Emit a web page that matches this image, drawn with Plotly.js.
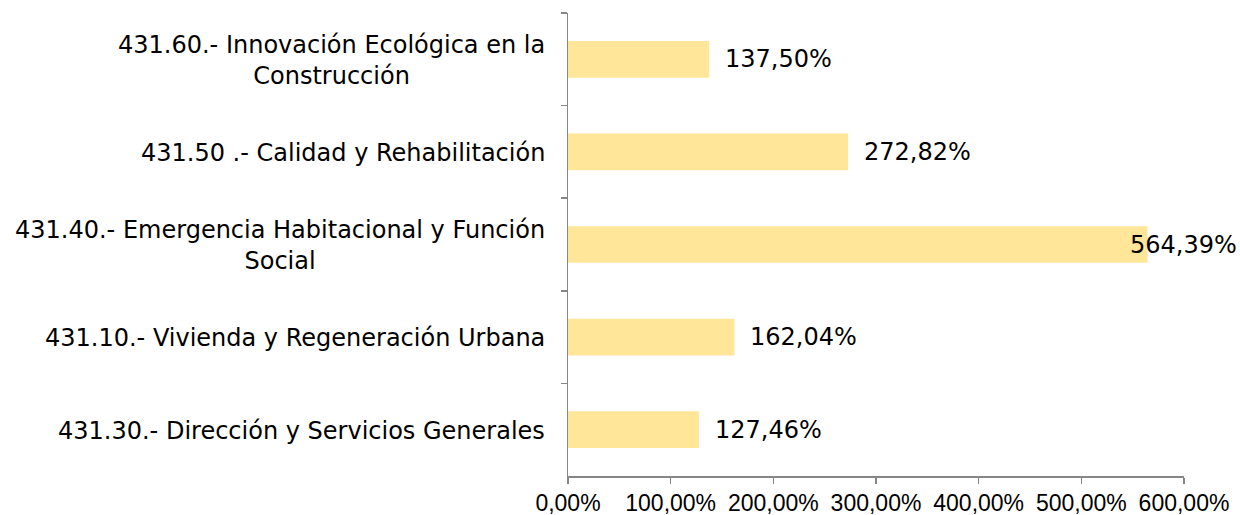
<!DOCTYPE html>
<html>
<head>
<meta charset="utf-8">
<script src="https://cdn.plot.ly/plotly-3.0.1.min.js"></script>
<style>html,body{margin:0;padding:0;background:#fff;}#chart{width:1240px;height:515px;}</style>
</head>
<body>
<div id="chart"></div>
<script>
// Categories, top to bottom as shown
const categories = [
  "431.60.- Innovación Ecológica en la<br>Construcción",
  "431.50 .- Calidad y Rehabilitación",
  "431.40.- Emergencia Habitacional y Función<br>Social",
  "431.10.- Vivienda y Regeneración Urbana",
  "431.30.- Dirección y Servicios Generales"
];
const values = [137.50, 272.82, 564.39, 162.04, 127.46];
const tickValues = [0, 100, 200, 300, 400, 500, 600];
const tickLabels = ["0,00%", "100,00%", "200,00%", "300,00%", "400,00%", "500,00%", "600,00%"];

function fmt(v) {
  return v.toFixed(2).replace('.', ',') + '%';
}

const labelFont = {family: 'DejaVu Sans, Verdana, sans-serif', size: 24, color: '#000'};

const annotations = [];
categories.forEach((c, i) => {
  annotations.push({
    xref: 'paper', yref: 'y', x: 0, y: c, xanchor: 'right', yanchor: 'middle',
    xshift: -21, yshift: -1, text: c, showarrow: false, align: 'center', font: labelFont
  });
  const v = values[i];
  if (v > 500) {
    annotations.push({
      xref: 'paper', yref: 'y', x: 1, y: c, xanchor: 'right', yanchor: 'middle',
      xshift: 55, text: fmt(v), showarrow: false, font: labelFont
    });
  } else {
    annotations.push({
      xref: 'x', yref: 'y', x: v, y: c, xanchor: 'left', yanchor: 'middle',
      xshift: 14, text: fmt(v), showarrow: false, font: labelFont
    });
  }
});

const trace = {
  type: 'bar', orientation: 'h',
  x: values, y: categories,
  marker: {color: '#FFE699', line: {width: 0}},
  hoverinfo: 'none'
};

const layout = {
  width: 1240, height: 515,
  margin: {l: 568, r: 56, t: 13, b: 39, pad: 0},
  paper_bgcolor: '#fff', plot_bgcolor: '#fff',
  showlegend: false,
  bargap: 0.604,
  xaxis: {
    range: [0, 600], tickvals: tickValues, ticktext: tickLabels,
    showgrid: false, zeroline: false,
    showline: true, linecolor: '#868686', linewidth: 1.5,
    ticks: 'outside', ticklen: 6, tickcolor: '#868686', tickwidth: 1.5,
    tickfont: {family: 'Liberation Sans, Arial, sans-serif', size: 23, color: '#000'},
    fixedrange: true
  },
  yaxis: {
    type: 'category', autorange: 'reversed',
    showticklabels: false,
    showgrid: false, zeroline: false,
    showline: true, linecolor: '#868686', linewidth: 1.5,
    ticks: 'outside', ticklen: 6, tickcolor: '#868686', tickwidth: 1.5,
    tickson: 'boundaries',
    fixedrange: true
  },
  annotations: annotations
};

Plotly.newPlot('chart', [trace], layout, {staticPlot: true, displayModeBar: false});
</script>
</body>
</html>
